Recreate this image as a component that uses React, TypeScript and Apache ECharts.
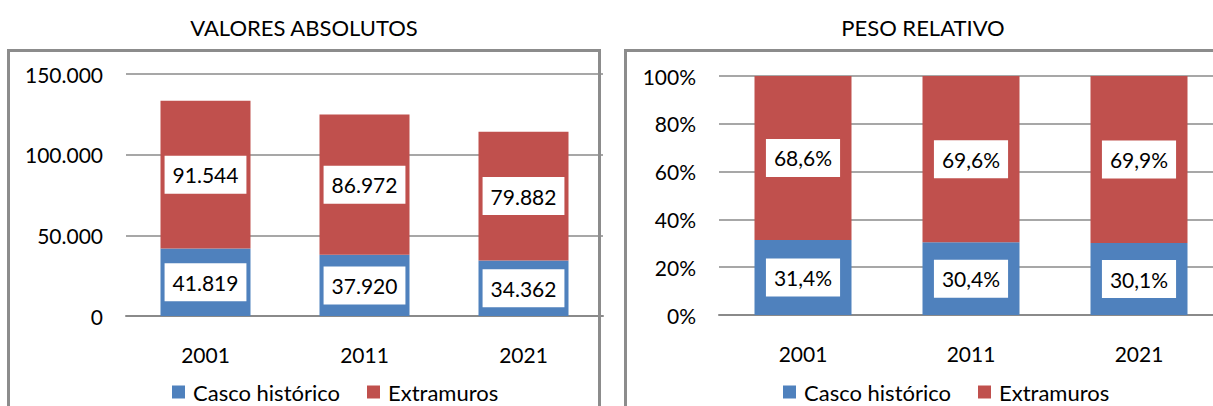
import React, { useEffect, useRef } from "react";
import * as echarts from "echarts";

const years = ["2001", "2011", "2021"];
const cascoAbs = [41819, 37920, 34362];
const extraAbs = [91544, 86972, 79882];
const cascoPct = [31.4, 30.4, 30.1];
const extraPct = [68.6, 69.6, 69.9];
const seriesNames = ["Casco histórico", "Extramuros"];
const titles = ["VALORES ABSOLUTOS", "PESO RELATIVO"];

const FONT = "Lato, 'Noto Sans', sans-serif";
const BLUE = "#4F81BD";
const RED = "#C0504D";
const GRID = "#8a8a8a";
const CANVAS_W = 1240;

const fmtThousands = (v: number) =>
  String(Math.round(v)).replace(/\B(?=(\d{3})+(?!\d))/g, ".");
const fmtPct = (v: number) => v.toFixed(1).replace(".", ",") + "%";

export default function App() {
  const ref = useRef<HTMLDivElement>(null);
  useEffect(() => {
    if (!ref.current) return;
    const chart = echarts.init(ref.current, null, { renderer: "svg" });
    const labelStyle = (fmt: (v: number) => string) => ({
      show: true,
      position: "inside" as const,
      backgroundColor: "#fff",
      padding: [8, 8, 8, 8],
      color: "#000",
      fontSize: 21,
      lineHeight: 22,
      fontFamily: FONT,
      formatter: (p: any) => fmt(p.value),
    });
    const xAxisBase = {
      type: "category" as const,
      data: years,
      axisTick: { show: false },
      axisLine: { lineStyle: { color: GRID, width: 2 } },
      axisLabel: { color: "#000", fontSize: 21, fontFamily: FONT, margin: 28 },
    };
    const yAxisBase = {
      type: "value" as const,
      min: 0,
      axisLine: { show: false },
      axisTick: { show: false },
      splitLine: { lineStyle: { color: GRID, width: 1.5 } },
    };
    const legendBase = {
      data: seriesNames,
      top: 381,
      padding: 0,
      itemWidth: 13,
      itemHeight: 13,
      itemGap: 27,
      icon: "rect",
      selectedMode: false,
      textStyle: { fontSize: 22, color: "#000", fontFamily: FONT, padding: [0, 0, 0, 3] },
    };
    chart.setOption({
      animation: false,
      textStyle: { fontFamily: FONT },
      title: [
        {
          text: titles[0],
          left: 299,
          top: 11,
          textAlign: "center",
          textStyle: { fontSize: 22, fontWeight: "normal", color: "#000", fontFamily: FONT },
        },
        {
          text: titles[1],
          left: 918,
          top: 11,
          textAlign: "center",
          textStyle: { fontSize: 22, fontWeight: "normal", color: "#000", fontFamily: FONT },
        },
      ],
      legend: [
        { ...legendBase, left: 172 },
        { ...legendBase, left: 783 },
      ],
      grid: [
        { left: 126, width: 477, top: 74, bottom: 406 - 316 },
        { left: 719, width: 504, top: 76, bottom: 406 - 315 },
      ],
      xAxis: [
        { ...xAxisBase, gridIndex: 0 },
        { ...xAxisBase, gridIndex: 1 },
      ],
      yAxis: [
        {
          ...yAxisBase,
          gridIndex: 0,
          max: 150000,
          interval: 50000,
          axisLabel: {
            color: "#000",
            fontSize: 21,
            fontFamily: FONT,
            margin: 23,
            formatter: (v: number) => fmtThousands(v),
          },
        },
        {
          ...yAxisBase,
          gridIndex: 1,
          max: 100,
          interval: 20,
          axisLabel: {
            color: "#000",
            fontSize: 21,
            fontFamily: FONT,
            margin: 23,
            formatter: "{value}%",
          },
        },
      ],
      series: [
        {
          name: seriesNames[0],
          type: "bar",
          stack: "abs",
          xAxisIndex: 0,
          yAxisIndex: 0,
          barWidth: 90,
          itemStyle: { color: BLUE },
          label: labelStyle(fmtThousands),
          data: cascoAbs,
        },
        {
          name: seriesNames[1],
          type: "bar",
          stack: "abs",
          xAxisIndex: 0,
          yAxisIndex: 0,
          barWidth: 90,
          itemStyle: { color: RED },
          label: labelStyle(fmtThousands),
          data: extraAbs,
        },
        {
          name: seriesNames[0],
          type: "bar",
          stack: "pct",
          xAxisIndex: 1,
          yAxisIndex: 1,
          barWidth: 97,
          itemStyle: { color: BLUE },
          label: labelStyle(fmtPct),
          data: cascoPct,
        },
        {
          name: seriesNames[1],
          type: "bar",
          stack: "pct",
          xAxisIndex: 1,
          yAxisIndex: 1,
          barWidth: 97,
          itemStyle: { color: RED },
          label: labelStyle(fmtPct),
          data: extraPct,
        },
      ],
      graphic: [
        {
          type: "rect",
          silent: true,
          shape: { x: 8.5, y: 50.5, width: 591, height: 420 },
          style: { fill: "none", stroke: "#8c8c8c", lineWidth: 3 },
          z: 100,
        },
        {
          type: "rect",
          silent: true,
          shape: { x: 625.5, y: 50.5, width: 700, height: 420 },
          style: { fill: "none", stroke: "#8c8c8c", lineWidth: 3 },
          z: 100,
        },
      ],
    });
    return () => chart.dispose();
  }, []);
  return (
    <div style={{ position: "fixed", left: 0, top: 0, width: 1213, height: 406, overflow: "hidden", background: "#fff" }}>
      <div ref={ref} style={{ width: CANVAS_W, height: 406 }} />
    </div>
  );
}
